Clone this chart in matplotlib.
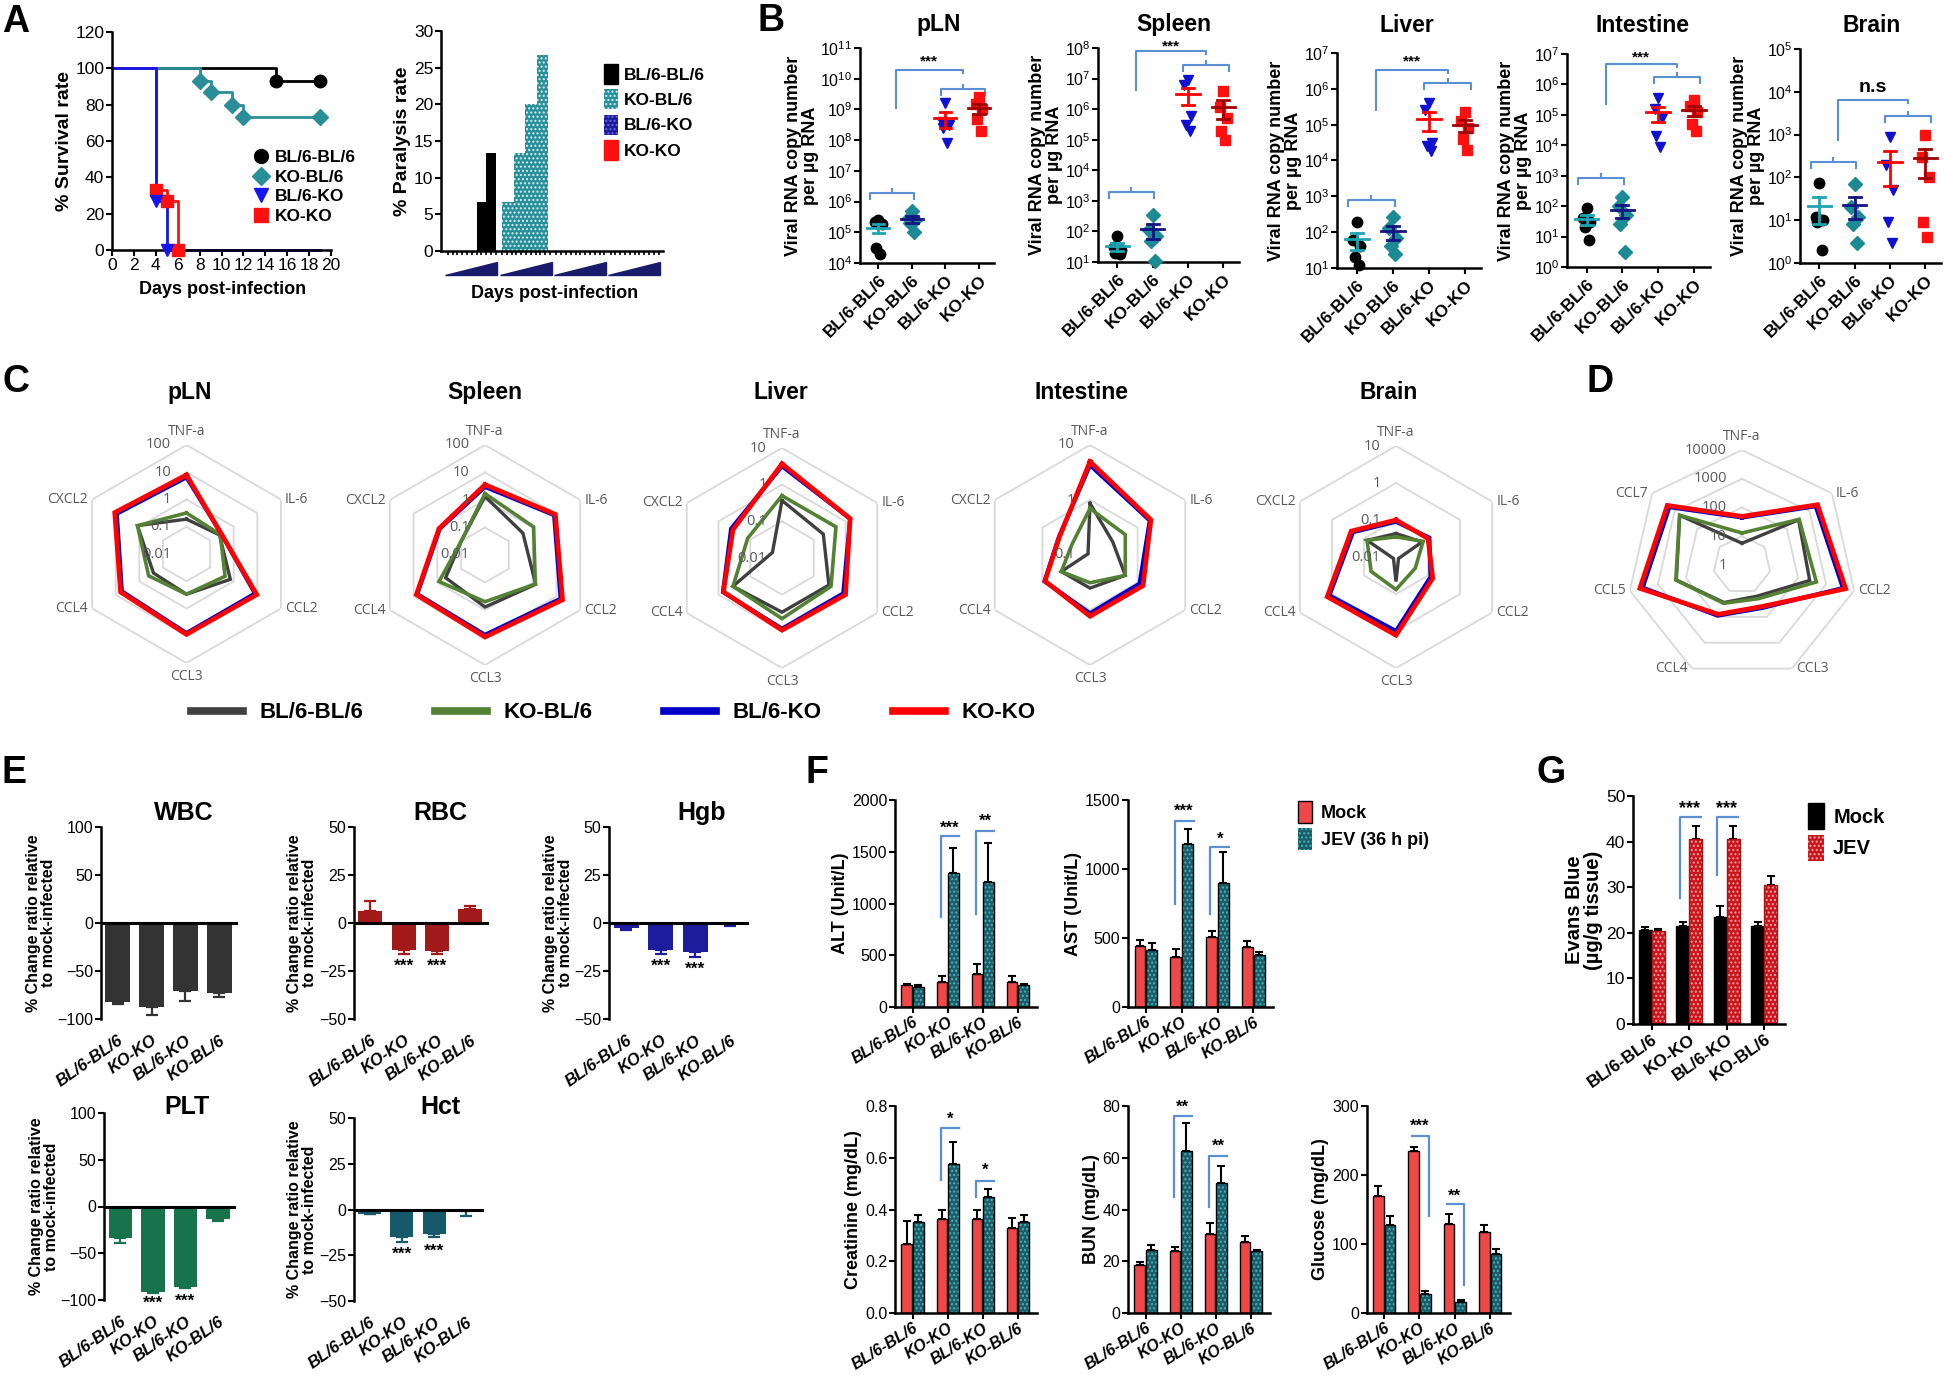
import numpy as np
import matplotlib
matplotlib.use("Agg")
import matplotlib.pyplot as plt
from matplotlib.lines import Line2D
from matplotlib.patches import Patch, Polygon
import matplotlib.transforms as mtransforms
from matplotlib.ticker import NullLocator

plt.rcParams['font.family'] = ['Liberation Sans', 'DejaVu Sans']
plt.rcParams['mathtext.default'] = 'regular'
plt.rcParams['hatch.linewidth'] = 1.0

# ======================= DATA =======================
groups_ab = ['BL/6-BL/6', 'KO-BL/6', 'BL/6-KO', 'KO-KO']
groups_efg = ['BL/6-BL/6', 'KO-KO', 'BL/6-KO', 'KO-BL/6']

# --- A: survival (% alive by day) ---
surv_days_bl6bl6 = [0, 15, 19]
surv_pct_bl6bl6 = [100, 93.3, 93.3]
surv_days_kobl6 = [0, 8, 9, 11, 12, 19]
surv_pct_kobl6 = [100, 93.3, 86.7, 80.0, 73.3, 73.3]
surv_days_bl6ko = [0, 4, 5, 19]
surv_pct_bl6ko = [100, 26.7, 0, 0]
surv_days_koko = [0, 4, 5, 6, 19]
surv_pct_koko = [100, 33.3, 26.7, 0, 0]

# --- A: paralysis rate (day within each group block) ---
paralysis_day_bl6bl6 = [7.0, 9.0]
paralysis_pct_bl6bl6 = [6.67, 13.33]
paralysis_day_kobl6 = [1.2, 3.6, 6.0, 8.4]
paralysis_pct_kobl6 = [6.67, 13.33, 20.0, 26.67]

# --- B: viral RNA copies per ug RNA (5 mice per group) ---
viral_tissues = ['pLN', 'Spleen', 'Liver', 'Intestine', 'Brain']
viral_pln = [[2.5e5, 2.2e5, 1.8e5, 3e4, 2e4], [5e5, 3e5, 2.5e5, 2e5, 1e5],
             [1.6e9, 4e8, 3e8, 2.5e8, 8e7], [2.5e9, 1.5e9, 1e9, 5e8, 2e8]]
viral_spleen = [[70, 30, 25, 20, 18], [350, 110, 70, 50, 11],
                [9e6, 6e6, 6e5, 3e5, 2e5], [4e6, 1.2e6, 5e5, 2e5, 1e5]]
viral_liver = [[190, 60, 40, 20, 12], [260, 130, 70, 40, 25],
               [4e5, 2.5e5, 3e4, 2.5e4, 1.8e4], [2.3e5, 1.3e5, 8e4, 4e4, 2e4]]
viral_intestine = [[90, 40, 30, 20, 8], [200, 100, 50, 25, 3],
                   [3.5e5, 1.5e5, 8e4, 2e4, 9e3], [3e5, 2e5, 1.2e5, 5e4, 3e4]]
viral_brain = [[75, 12, 10, 9, 2], [70, 20, 12, 8, 3],
               [900, 200, 50, 9, 3], [1000, 300, 100, 9, 4]]
viral_ylim_exp = [(4, 11), (1, 8), (1, 7), (0, 7), (0, 5)]
viral_sig = ['***', '***', '***', '***', 'n.s']
# bracket levels (log10): lower pair, upper pair, top, left foot, label
viral_bracket_exp = [(6.28, 9.67, 10.3, 9.05, 10.57),
                     (3.30, 7.46, 7.89, 6.61, 8.06),
                     (2.89, 6.16, 6.53, 5.41, 6.77),
                     (2.91, 6.23, 6.67, 5.36, 6.89),
                     (2.35, 3.44, 3.80, 2.88, 4.09)]

# --- C: cytokine radar (fold change), order BL/6-BL/6, KO-BL/6, BL/6-KO, KO-KO ---
radar_cats_c = ['TNF-a', 'IL-6', 'CCL2', 'CCL3', 'CCL4', 'CXCL2']
radar_pln = [[0.19, 0.25, 0.72, 0.30, 0.25, 1.2],
             [0.32, 0.27, 0.43, 0.30, 0.40, 1.2],
             [6.5, 0.30, 8.0, 8.0, 5.5, 9.0],
             [7.9, 0.30, 9.5, 8.9, 6.2, 11.0]]
radar_spleen = [[1.35, 0.39, 1.35, 0.78, 0.45, 0.10],
                [1.7, 1.1, 1.3, 0.50, 0.85, 0.10],
                [3.0, 8.0, 15.0, 8.0, 7.0, 0.80],
                [3.6, 9.0, 18.0, 9.6, 7.6, 0.85]]
radar_liver = [[0.37, 0.20, 0.30, 0.30, 0.35, 0.02],
               [0.50, 0.50, 0.35, 0.45, 0.35, 0.12],
               [3.2, 1.4, 0.85, 0.85, 0.72, 0.40],
               [3.7, 1.4, 1.0, 0.93, 0.70, 0.35]]
radar_intestine = [[0.87, 0.30, 0.55, 0.40, 0.40, 0.11],
                   [0.70, 0.55, 0.55, 0.32, 0.40, 0.24],
                   [4.3, 1.8, 1.1, 1.15, 0.90, 0.45],
                   [5.0, 1.9, 1.3, 1.3, 0.88, 0.44]]
radar_brain = [[0.043, 0.065, 0.012, 0.046, 0.012, 0.08],
               [0.035, 0.07, 0.04, 0.076, 0.06, 0.08],
               [0.09, 0.11, 0.12, 1.0, 1.2, 0.22],
               [0.10, 0.10, 0.14, 1.3, 1.4, 0.25]]
radar_range = [(0.01, 100), (0.01, 100), (0.01, 10), (0.1, 10), (0.01, 10)]

# --- D: brain cytokines ---
radar_cats_d = ['TNF-a', 'IL-6', 'CCL2', 'CCL3', 'CCL4', 'CCL5', 'CCL7']
radar_d = [[5.7, 330, 260, 16, 28, 220, 590],
           [13, 350, 450, 20, 30, 230, 600],
           [45, 1900, 4000, 45, 90, 3500, 1700],
           [49, 2300, 5000, 40, 80, 4400, 2100]]
radar_d_range = (1, 10000)

# --- E: % change relative to mock ---
wbc_vals = [-82, -87, -71, -73];      wbc_err = [2.5, 9.3, 10.3, 4.0]
rbc_vals = [6.0, -13.9, -14.8, 7.3];  rbc_err = [5.3, 2.1, 1.2, 1.4]
hgb_vals = [-2.5, -13.9, -15.3, -1.0]; hgb_err = [1.0, 2.1, 2.2, 0.8]
plt_vals = [-34, -91, -86.4, -13.2];  plt_err = [5.0, 1.0, 1.1, 2.8]
hct_vals = [-2.2, -15.1, -13.3, -1.0]; hct_err = [0.3, 2.4, 2.0, 2.3]

# --- F: serum chemistry (Mock vs JEV 36 h pi) ---
alt_mock = [210, 242, 316, 242];   alt_mock_err = [16, 58, 103, 58]
alt_jev = [194, 1297, 1203, 210];  alt_jev_err = [16, 242, 377, 16]
ast_mock = [440, 363, 508, 435];   ast_mock_err = [44, 56, 41, 44]
ast_jev = [416, 1181, 900, 380];   ast_jev_err = [51, 109, 225, 22]
cre_mock = [0.267, 0.365, 0.365, 0.33]; cre_mock_err = [0.089, 0.034, 0.034, 0.038]
cre_jev = [0.35, 0.575, 0.45, 0.35];    cre_jev_err = [0.028, 0.086, 0.03, 0.028]
bun_mock = [18.6, 24.0, 30.6, 27.4];    bun_mock_err = [1.3, 1.6, 4.1, 2.2]
bun_jev = [24.2, 62.6, 50.2, 24.0];     bun_jev_err = [1.9, 10.7, 6.6, 0.4]
glu_mock = [170, 235, 129, 117];        glu_mock_err = [14, 5, 15, 10]
glu_jev = [128, 28, 16, 86];            glu_jev_err = [12, 4, 3, 7]

# --- G: Evans blue ---
eb_mock = [20.6, 21.5, 23.5, 21.5]; eb_mock_err = [0.6, 0.8, 2.4, 0.8]
eb_jev = [20.3, 40.5, 40.5, 30.5];  eb_jev_err = [0.5, 3.0, 3.0, 1.9]

# ======================= FIGURE =======================
W, H = 1944, 1375
fig = plt.figure(figsize=(W / 100, H / 100), dpi=100)
BR = '#5B8FD2'   # bracket colour


def add_ax(x0, y0, x1, y1, **kw):
    return fig.add_axes([x0 / W, 1 - y1 / H, (x1 - x0) / W, (y1 - y0) / H], **kw)


def ftext(x, y, s, **kw):
    return fig.text(x / W, 1 - y / H, s, **kw)


def prism(ax, lw=1.8, ls=11):
    ax.spines['top'].set_visible(False)
    ax.spines['right'].set_visible(False)
    ax.spines['left'].set_linewidth(lw)
    ax.spines['bottom'].set_linewidth(lw)
    ax.tick_params(direction='out', length=4, width=1.5, labelsize=ls, pad=1.5)


def letter(x, y, s):
    ftext(x, y, s, fontsize=27, fontweight='bold', ha='left', va='top')


# ---------------- A: survival ----------------
letter(2, 4, 'A')
axA = add_ax(112, 32, 331, 250)
prism(axA)
surv_style = [
    (surv_days_bl6bl6, surv_pct_bl6bl6, '#000000', 'o', 9, [1, 2]),
    (surv_days_kobl6, surv_pct_kobl6, '#2A8E98', 'D', 8, [1, 2, 3, 4, 5]),
    (surv_days_koko, surv_pct_koko, '#FF1010', 's', 8.5, [1, 2, 3]),
    (surv_days_bl6ko, surv_pct_bl6ko, '#1515F0', 'v', 9, [1, 2]),
]
for d, p, c, mk, ms, idx in surv_style:
    axA.step(d, p, where='post', color=c, lw=2, zorder=2, clip_on=False)
    axA.plot(np.array(d)[idx], np.array(p)[idx], ls='none', marker=mk, ms=ms,
             color=c, zorder=3, clip_on=False)
axA.set_xlim(0, 20)
axA.set_ylim(0, 120)
axA.set_xticks(np.arange(0, 21, 2))
axA.set_yticks(np.arange(0, 121, 20))
axA.tick_params(labelsize=12.5)
axA.set_ylabel('% Survival rate', fontsize=14, fontweight='bold', labelpad=2)
ftext(223, 289, 'Days post-infection', fontsize=13, fontweight='bold', ha='center', va='center')
surv_handles = [Line2D([], [], ls='none', marker='o', ms=10, color='#000000'),
                Line2D([], [], ls='none', marker='D', ms=9, color='#2A8E98'),
                Line2D([], [], ls='none', marker='v', ms=10, color='#1515F0'),
                Line2D([], [], ls='none', marker='s', ms=9.5, color='#FF1010')]
axA.legend(surv_handles, groups_ab, loc='upper left', bbox_to_anchor=(252 / W, 1 - 150 / H),
           bbox_transform=fig.transFigure, frameon=False, prop={'weight': 'bold', 'size': 12.5},
           handlelength=1.0, handletextpad=0.3, labelspacing=0.25, borderpad=0, borderaxespad=0)

# ---------------- A: paralysis ----------------
axP = add_ax(441, 31, 663, 251)
prism(axP)
block = 11.3
par_style = [(paralysis_day_bl6bl6, paralysis_pct_bl6bl6, 2.0, '#000000', None, '#000000'),
             (paralysis_day_kobl6, paralysis_pct_kobl6, 2.4, '#2A8E98', '....', '#CFEFF2')]
for gi, (d, p, w, fc, ht, ec) in enumerate(par_style):
    axP.bar(np.array(d) + gi * block, p, width=w, color=fc, hatch=ht, edgecolor=ec, lw=0, zorder=2)
axP.set_xlim(-1.4, 44.8)
axP.set_ylim(0, 30)
axP.set_yticks(np.arange(0, 31, 5))
axP.set_xticks([])
axP.set_xticks(np.concatenate([g * block + np.arange(0, 11) for g in range(4)]), minor=True)
axP.tick_params(axis='x', which='minor', length=3, width=1.2)
axP.tick_params(labelsize=12.5)
axP.set_ylabel('% Paralysis rate', fontsize=14, fontweight='bold', labelpad=2)
trP = mtransforms.blended_transform_factory(axP.transData, axP.transAxes)
for g in range(4):
    x0 = g * block - 0.5
    axP.add_patch(Polygon([(x0, -0.11), (x0 + 10.8, -0.11), (x0 + 10.8, -0.052)], closed=True,
                          transform=trP, clip_on=False, color='#1B1B6B'))
ftext(555, 294, 'Days post-infection', fontsize=13, fontweight='bold', ha='center', va='center')
par_handles = [Patch(facecolor='#000000', edgecolor='#000000'),
               Patch(facecolor='#2A8E98', edgecolor='#CFEFF2', hatch='....', lw=0),
               Patch(facecolor='#1A1A9A', edgecolor='#6A6AE0', hatch='....', lw=0),
               Patch(facecolor='#FF1010', edgecolor='#FF1010')]
axP.legend(par_handles, groups_ab, loc='upper left', bbox_to_anchor=(604 / W, 1 - 64 / H),
           bbox_transform=fig.transFigure, frameon=False, prop={'weight': 'bold', 'size': 12.5},
           handlelength=0.8, handleheight=1.4, handletextpad=0.35, labelspacing=0.3,
           borderpad=0, borderaxespad=0)

# ---------------- B: viral load ----------------
letter(757, 3, 'B')
viral_data = [viral_pln, viral_spleen, viral_liver, viral_intestine, viral_brain]
viral_box = [(860, 48, 994, 263), (1098, 48, 1239, 262), (1337, 53, 1481, 268),
             (1567, 54, 1710, 267), (1800, 49, 1941, 263)]
viral_title_x = [939, 1174, 1407, 1642, 1872]
mk_style = [('o', '#000000', '#1FA3B3'), ('D', '#1B8A94', '#141482'),
            ('v', '#1010D0', '#FF0000'), ('s', '#FF1010', '#A00000')]
jit = np.array([0.0, -0.1, 0.1, -0.06, 0.06])

for k in range(5):
    x0, y0, x1, y1 = viral_box[k]
    ax = add_ax(x0, y0, x1, y1)
    prism(ax, ls=11.5)
    lo, hi = viral_ylim_exp[k]
    ax.set_yscale('log')
    ax.set_ylim(10.0 ** lo, 10.0 ** hi)
    ax.set_yticks(10.0 ** np.arange(lo, hi + 1))
    ax.yaxis.set_minor_locator(NullLocator())
    ax.set_xlim(-0.55, 3.45)
    for i, vals in enumerate(viral_data[k]):
        v = np.array(vals, dtype=float)
        m = v.mean()
        s = v.std(ddof=1) / np.sqrt(len(v))
        mk, mc, lc = mk_style[i]
        ax.plot(i + jit, v, ls='none', marker=mk, ms=7.5, color=mc, zorder=3, clip_on=False)
        ax.plot([i - 0.33, i + 0.33], [m, m], color=lc, lw=2, zorder=4)
        ax.plot([i - 0.17, i + 0.17], [m + s, m + s], color=lc, lw=2, zorder=4)
        ax.plot([i - 0.17, i + 0.17], [m - s, m - s], color=lc, lw=2, zorder=4)
        ax.plot([i, i], [m - s, m + s], color=lc, lw=2, zorder=4)
    dpp = (hi - lo) / (y1 - y0)   # decades per pixel
    e1, e2, et, ef, es = viral_bracket_exp[k]

    def bpair(xa, xb, e):
        ax.plot([xa, xa, xb, xb], [10 ** (e - 6 * dpp), 10 ** e, 10 ** e, 10 ** (e - 6 * dpp)],
                color=BR, lw=1.5, clip_on=False)
        xm = 0.5 * (xa + xb)
        ax.plot([xm, xm], [10 ** e, 10 ** (e + 4 * dpp)], color=BR, lw=1.5, clip_on=False)

    bpair(-0.25, 1.05, e1)
    bpair(1.87, 3.17, e2)
    ax.plot([0.53, 0.53, 2.52, 2.52], [10 ** ef, 10 ** et, 10 ** et, 10 ** (et - 3 * dpp)],
            color=BR, lw=1.5, clip_on=False)
    if viral_sig[k] == 'n.s':
        ax.text(1.52, 10 ** es, viral_sig[k], ha='center', va='center', fontsize=14,
                fontweight='bold', clip_on=False)
    else:
        ax.text(1.52, 10 ** es, viral_sig[k], ha='center', va='center', fontsize=11,
                fontweight='bold', clip_on=False)
    ax.set_xticks(range(4))
    ax.set_xticklabels(groups_ab, rotation=45, ha='right', rotation_mode='anchor',
                       fontsize=12.5, fontweight='bold')
    ax.tick_params(axis='x', pad=3)
    ax.set_ylabel('Viral RNA copy number\nper \u00b5g RNA', fontsize=13, fontweight='bold',
                  labelpad=1, linespacing=1.0)
    ftext(viral_title_x[k], 25, viral_tissues[k], fontsize=16.5, fontweight='bold',
          ha='center', va='center')

# ---------------- C / D: radar charts ----------------
RFONT = ['Open Sans', 'DejaVu Sans']
radar_colors = ['#404040', '#548235', '#0000C8', '#FF0000']
radar_widths = [2.4, 2.6, 3.0, 3.4]


def radar(cx, cy, R, cats, series, rmin, rmax):
    ax = add_ax(cx - R, cy - R, cx + R, cy + R, projection='polar')
    ax.set_theta_offset(np.pi / 2)
    ax.set_theta_direction(-1)
    ax.set_rscale('log')
    n = len(cats)
    th = np.arange(n) * 2 * np.pi / n
    thc = np.r_[th, th[0]]
    ndec = int(round(np.log10(rmax / rmin)))
    rings = [rmin * 10 ** k for k in range(1, ndec + 1)]
    for rv in rings:
        ax.plot(thc, np.full(n + 1, rv), color='#D9D9D9', lw=1.3, zorder=1)
    for vals, col, lw in zip(series, radar_colors, radar_widths):
        ax.plot(thc, np.r_[vals, vals[0]], color=col, lw=lw, zorder=3,
                solid_joinstyle='miter')
    ax.set_rlim(rmin, rmax)
    ax.grid(False)
    ax.set_xticks([])
    ax.set_yticks([])
    ax.spines['polar'].set_visible(False)
    ax.patch.set_visible(False)
    for rv in [rmin] + rings:
        ax.annotate(f'{rv:g}', xy=(0, rv), xytext=(-11, 0), textcoords='offset points',
                    ha='right', va='center', fontsize=10.5, color='#595959', family=RFONT,
                    annotation_clip=False)
    for t, c in zip(th, cats):
        s, co = np.sin(t), np.cos(t)
        if abs(s) < 0.05:
            ha = 'center'
            va = 'bottom' if co > 0 else 'top'
            off = (0, 4 if co > 0 else -4)
        else:
            ha = 'left' if s > 0 else 'right'
            va = 'center'
            off = (3 if s > 0 else -3, 0)
        ax.annotate(c, xy=(t, rmax), xytext=off, textcoords='offset points', ha=ha, va=va,
                    fontsize=10, color='#595959', family=RFONT, annotation_clip=False)
    return ax


letter(2, 364, 'C')
radar_series = [radar_pln, radar_spleen, radar_liver, radar_intestine, radar_brain]
radar_centers = [(186.5, 554, 109), (485, 555, 110), (782, 558, 110), (1090, 555, 110),
                 (1396, 557, 111)]
radar_title_x = [190, 485, 781, 1082, 1389]
for k in range(5):
    cx, cy, R = radar_centers[k]
    radar(cx, cy, R, radar_cats_c, radar_series[k], *radar_range[k])
    ftext(radar_title_x[k], 393, viral_tissues[k], fontsize=16.5, fontweight='bold',
          ha='center', va='center')

letter(1586, 364, 'D')
radar(1742, 565, 115, radar_cats_d, radar_d, *radar_d_range)

leg_handles = [Line2D([], [], color=c, lw=5.5) for c in radar_colors]
fig.legend(leg_handles, groups_ab, loc='center left', bbox_to_anchor=(191 / W, 1 - 713 / H),
           ncol=4, frameon=False, prop={'weight': 'bold', 'size': 16}, handlelength=2.35,
           handletextpad=0.75, columnspacing=3.2, borderpad=0, borderaxespad=0)

# ---------------- E: hematology ----------------
letter(2, 755, 'E')


def change_panel(box, vals, errs, color, ylim, yticks, title, title_xy, stars):
    x0, y0, x1, y1 = box
    ax = add_ax(x0, y0, x1, y1)
    prism(ax, ls=11.5)
    x = np.arange(4)
    ax.bar(x, vals, width=0.72, color=color, zorder=2)
    lo = [e if v < 0 else 0 for v, e in zip(vals, errs)]
    up = [e if v >= 0 else 0 for v, e in zip(vals, errs)]
    ax.errorbar(x, vals, yerr=[lo, up], fmt='none', ecolor=color, elinewidth=1.6,
                capsize=4, capthick=1.6, zorder=3)
    ax.axhline(0, color='black', lw=2.2, zorder=4)
    ax.spines['bottom'].set_visible(False)
    ax.set_xlim(-0.5, 3.55)
    ax.set_ylim(*ylim)
    ax.set_yticks(yticks)
    ax.set_xticks(x)
    ax.set_xticklabels(groups_efg, rotation=35, ha='right', rotation_mode='anchor',
                       fontsize=12, fontweight='bold', fontstyle='italic')
    ax.tick_params(axis='x', length=0, pad=10)
    ax.set_ylabel('% Change ratio relative\nto mock-infected', fontsize=11.5,
                  fontweight='bold', labelpad=1, linespacing=1.0)
    for (xi, yi) in stars:
        ax.text(xi, yi, '***', ha='center', va='center', fontsize=12.5, fontweight='bold',
                clip_on=False)
    ftext(title_xy[0], title_xy[1], title, fontsize=18, fontweight='bold',
          ha='center', va='center')


change_panel((100.7, 827, 238, 1019), wbc_vals, wbc_err, '#333333', (-100, 100),
             [-100, -50, 0, 50, 100], 'WBC', (184, 813), [])
change_panel((353.6, 827, 488.7, 1019), rbc_vals, rbc_err, '#A31A1A', (-50, 50),
             [-50, -25, 0, 25, 50], 'RBC', (440, 813), [(1, -22.6), (2, -22.6)])
change_panel((609, 827, 749, 1019), hgb_vals, hgb_err, '#1C1C9C', (-50, 50),
             [-50, -25, 0, 25, 50], 'Hgb', (702, 813), [(1, -22.3), (2, -24.2)])
change_panel((104, 1113, 236, 1300), plt_vals, plt_err, '#17734A', (-100, 100),
             [-100, -50, 0, 50, 100], 'PLT', (187, 1107), [(1, -104), (2, -101)])
change_panel((353.6, 1118, 484, 1301), hct_vals, hct_err, '#16596A', (-50, 50),
             [-50, -25, 0, 25, 50], 'Hct', (440, 1107), [(1, -24.6), (2, -23.0)])

# ---------------- F: chemistry ----------------
letter(806, 755, 'F')
MOCK_C = '#F04848'
JEV_C, JEV_H = '#1B5E68', '#48B3C0'


def chem_panel(box, mock, merr, jev, jerr, ylim, yticks, ylabel, brackets, flip=False,
               jev_c=JEV_C, jev_h=JEV_H, mock_c=MOCK_C, jev_edge='black', width=0.3,
               off=0.165, italic=True, rot=32, fs=11.5, ylabel_fs=13):
    x0, y0, x1, y1 = box
    ax = add_ax(x0, y0, x1, y1)
    prism(ax, ls=11.5)
    x = np.arange(4)
    ax.bar(x - off, mock, width=width, color=mock_c, edgecolor='black', lw=1, zorder=2)
    ax.bar(x + off, jev, width=width, color=jev_c, edgecolor=jev_h, hatch='....', lw=0, zorder=2)
    ax.bar(x + off, jev, width=width, fill=False, edgecolor=jev_edge, lw=1, zorder=2)
    ax.errorbar(x - off, mock, yerr=[np.zeros(4), merr], fmt='none', ecolor='black',
                elinewidth=1.5, capsize=3, capthick=1.5, zorder=1)
    ax.errorbar(x + off, jev, yerr=[np.zeros(4), jerr], fmt='none', ecolor='black',
                elinewidth=1.5, capsize=3, capthick=1.5, zorder=1)
    ax.set_xlim(-0.5, 3.55)
    ax.set_ylim(*ylim)
    ax.set_yticks(yticks)
    ax.set_xticks(x)
    ax.set_xticklabels(groups_efg, rotation=rot, ha='right', rotation_mode='anchor',
                       fontsize=fs, fontweight='bold', fontstyle='italic' if italic else 'normal')
    ax.set_ylabel(ylabel, fontsize=ylabel_fs, fontweight='bold', labelpad=2, linespacing=1.0)
    for (g, ylow, ytop, ystar, txt) in brackets:
        if flip:
            ax.plot([g - 0.22, g + 0.26, g + 0.26], [ytop, ytop, ylow], color=BR, lw=1.6,
                    clip_on=False)
            ax.text(g, ystar, txt, ha='center', va='center', fontsize=12, fontweight='bold')
        else:
            ax.plot([g - 0.2, g - 0.2, g + 0.33], [ylow, ytop, ytop], color=BR, lw=1.6,
                    clip_on=False)
            ax.text(g + 0.065, ystar, txt, ha='center', va='center', fontsize=12,
                    fontweight='bold', clip_on=False)
    return ax


chem_panel((895, 800, 1037, 1007), alt_mock, alt_mock_err, alt_jev, alt_jev_err, (0, 2000),
           [0, 500, 1000, 1500, 2000], 'ALT (Unit/L)',
           [(1, 871, 1652, 1726, '***'), (2, 903, 1700, 1797, '**')])
chem_panel((1128, 800, 1273, 1007), ast_mock, ast_mock_err, ast_jev, ast_jev_err, (0, 1500),
           [0, 500, 1000, 1500], 'AST (Unit/L)',
           [(1, 750, 1350, 1415, '***'), (2, 677, 1161, 1215, '*')])
chem_panel((895, 1106, 1037, 1313), cre_mock, cre_mock_err, cre_jev, cre_jev_err, (0, 0.8),
           [0.0, 0.2, 0.4, 0.6, 0.8], 'Creatinine (mg/dL)',
           [(1, 0.514, 0.716, 0.75, '*'), (2, 0.448, 0.51, 0.55, '*')])
chem_panel((1128, 1106, 1270, 1313), bun_mock, bun_mock_err, bun_jev, bun_jev_err, (0, 80),
           [0, 20, 40, 60, 80], 'BUN (mg/dL)',
           [(1, 45, 76, 79.5, '**'), (2, 40.9, 60.7, 64.3, '**')])
chem_panel((1366.5, 1106, 1509.5, 1313), glu_mock, glu_mock_err, glu_jev, glu_jev_err,
           (0, 300), [0, 100, 200, 300], 'Glucose (mg/dL)',
           [(1, 140, 256, 270, '***'), (2, 40, 158, 169, '**')], flip=True)

fig.legend([Patch(facecolor=MOCK_C, edgecolor='black', lw=1),
            Patch(facecolor=JEV_C, edgecolor=JEV_H, hatch='....', lw=0)],
           ['Mock', 'JEV (36 h pi)'], loc='upper left', bbox_to_anchor=(1298 / W, 1 - 801 / H),
           frameon=False, prop={'weight': 'bold', 'size': 13}, handlelength=0.8,
           handleheight=1.5, handletextpad=0.45, labelspacing=0.3, borderpad=0, borderaxespad=0)

# ---------------- G: Evans blue ----------------
letter(1536, 755, 'G')
axG = chem_panel((1633, 796, 1785, 1024), eb_mock, eb_mock_err, eb_jev, eb_jev_err, (0, 50),
                 [0, 10, 20, 30, 40, 50], 'Evans Blue\n(\u00b5g/g tissue)',
                 [], jev_c='#C8161E', jev_h='#F3A0A0', mock_c='#000000', jev_edge='#B01010',
                 width=0.35, off=0.175, italic=False, rot=35, fs=12, ylabel_fs=14.5)
axG.tick_params(labelsize=12.5)
for g, ylow in [(1, 27.7), (2, 32.7)]:
    axG.plot([g - 0.25, g - 0.25, g + 0.3], [ylow, 45.4, 45.4], color=BR, lw=1.6, clip_on=False)
    axG.text(g, 47.3, '***', ha='center', va='center', fontsize=13, fontweight='bold')
fig.legend([Patch(facecolor='#000000', edgecolor='#000000'),
            Patch(facecolor='#C8161E', edgecolor='#F3A0A0', hatch='....', lw=0)],
           ['Mock', 'JEV'], loc='upper left', bbox_to_anchor=(1808 / W, 1 - 803 / H),
           frameon=False, prop={'weight': 'bold', 'size': 14.5}, handlelength=0.8,
           handleheight=1.6, handletextpad=0.45, labelspacing=0.3, borderpad=0, borderaxespad=0)

fig.savefig('out.png', dpi=100)
